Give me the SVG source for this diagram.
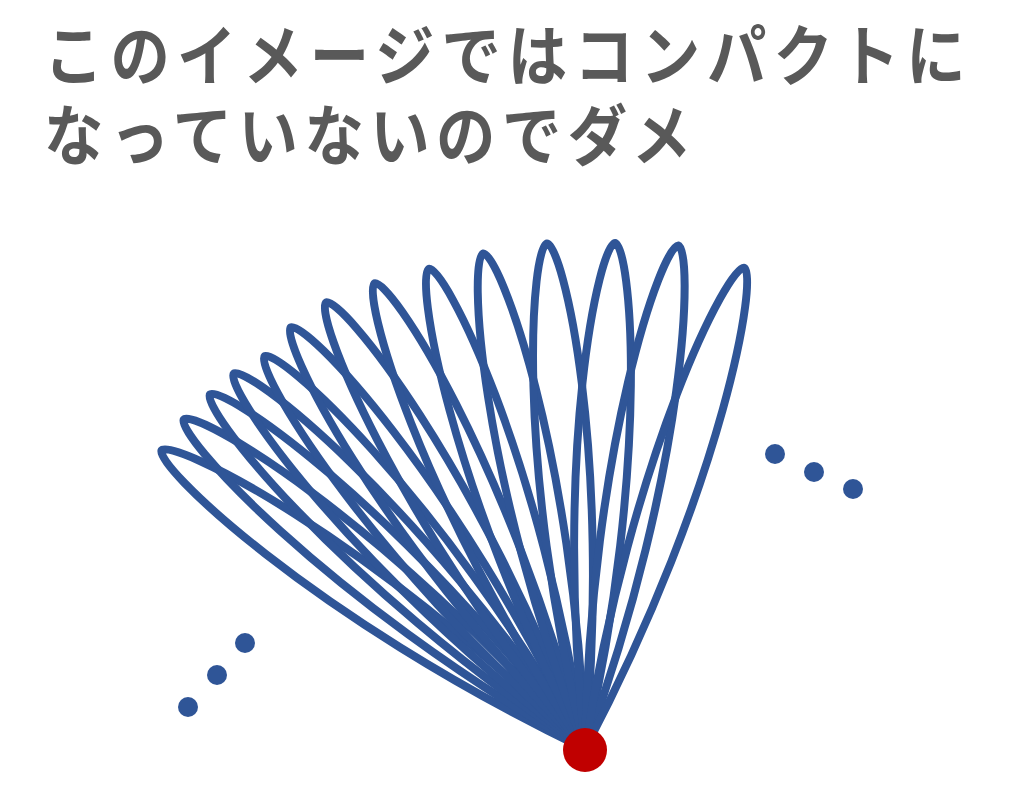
<svg xmlns="http://www.w3.org/2000/svg" xmlns:xlink="http://www.w3.org/1999/xlink" width="1024" height="799" viewBox="0 0 1024 799">
  <style>
    .title { font-family: "Noto Sans CJK JP", "Noto Sans", sans-serif; font-weight: 700; font-size: 66px; fill: #595959; }
    .loop { fill: none; stroke: #2F5597; stroke-width: 8; stroke-linejoin: round; }
    .dot { fill: #2F5597; }
    .base { fill: #C00000; }
  </style>
  <defs>
    <path id="petal" class="loop" d="M0,0 C-50,-300 -15,-510 0,-510 C15,-510 50,-300 0,0 Z"/>
  </defs>
  <rect width="1024" height="799" fill="#FFFFFF"/>
  <g id="title">
    <text class="title" transform="scale(0.9,1)" x="49" y="80" textLength="1024" lengthAdjust="spacing">このイメージではコンパクトに</text>
    <text class="title" transform="scale(0.9,1)" x="49" y="160" textLength="719" lengthAdjust="spacing">なっていないのでダメ</text>
  </g>
  <g id="loops">
    <use xlink:href="#petal" transform="translate(585,749) rotate(-54.8) scale(1.016)"/>
    <use xlink:href="#petal" transform="translate(585,749) rotate(-50.6) scale(1.018)"/>
    <use xlink:href="#petal" transform="translate(585,749) rotate(-46.6) scale(1.012)"/>
    <use xlink:href="#petal" transform="translate(585,749) rotate(-43.1) scale(1.008)"/>
    <use xlink:href="#petal" transform="translate(585,749) rotate(-39.2) scale(0.994)"/>
    <use xlink:href="#petal" transform="translate(585,749) rotate(-34.9) scale(1.008)"/>
    <use xlink:href="#petal" transform="translate(585,749) rotate(-30.1) scale(1.012)"/>
    <use xlink:href="#petal" transform="translate(585,749) rotate(-24.3) scale(1.002)"/>
    <use xlink:href="#petal" transform="translate(585,749) rotate(-18.0) scale(0.990)"/>
    <use xlink:href="#petal" transform="translate(585,749) rotate(-11.6) scale(0.992)"/>
    <use xlink:href="#petal" transform="translate(585,749) rotate(-4.3) scale(0.994)"/>
    <use xlink:href="#petal" transform="translate(585,749) rotate(3.4) scale(0.994)"/>
    <use xlink:href="#petal" transform="translate(585,749) rotate(10.5) scale(1.004)"/>
    <use xlink:href="#petal" transform="translate(585,749) rotate(18.3) scale(0.994)"/>
  </g>
  <g id="base-point">
    <circle class="base" cx="585" cy="750" r="22"/>
  </g>
  <g id="ellipsis-right">
    <circle class="dot" cx="775" cy="454" r="10"/>
    <circle class="dot" cx="814" cy="472" r="10"/>
    <circle class="dot" cx="853" cy="489" r="10"/>
  </g>
  <g id="ellipsis-left">
    <circle class="dot" cx="245" cy="643" r="10"/>
    <circle class="dot" cx="217" cy="675" r="10"/>
    <circle class="dot" cx="188" cy="707" r="10"/>
  </g>
</svg>
